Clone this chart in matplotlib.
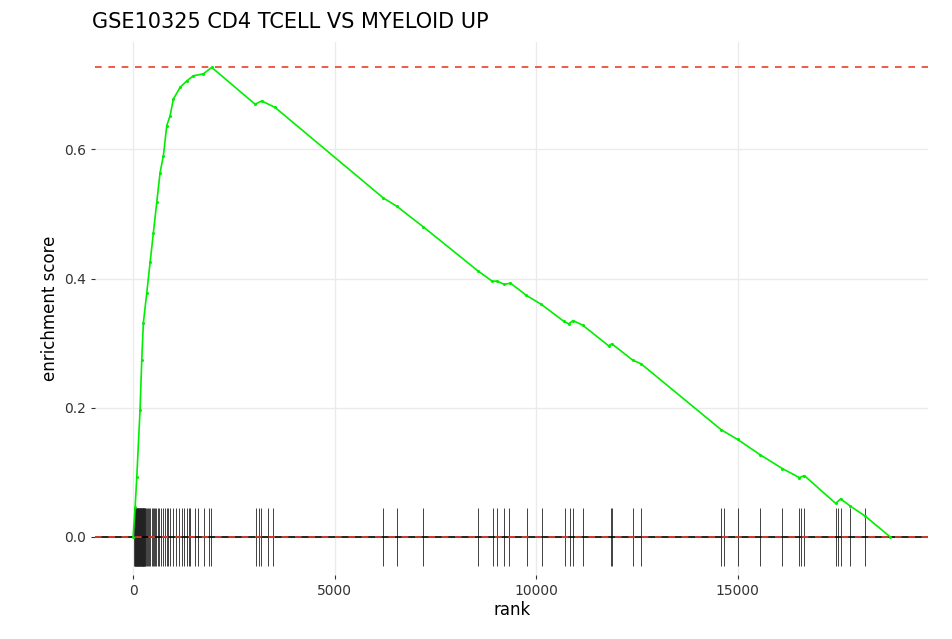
import matplotlib
matplotlib.use("Agg")
import matplotlib.pyplot as plt

title = "GSE10325 CD4 TCELL VS MYELOID UP"
curve_rank = [0, 52, 92, 173, 215, 256, 340, 422, 504, 587, 670, 752, 836, 918, 1000, 1166, 1332, 1497,
              1745, 1951, 3027, 3192, 3523, 6205, 6543, 7203, 8556, 8911, 9035, 9216, 9365, 9761,
              10132, 10685, 10809, 10916, 11155, 11799, 11881, 12393, 12607, 14593, 15000, 15568,
              16108, 16534, 16657, 17434, 17557, 17794, 18172, 18790]
curve_es = [0.0, 0.047, 0.093, 0.197, 0.274, 0.332, 0.378, 0.425, 0.471, 0.518, 0.564, 0.590, 0.637,
            0.652, 0.678, 0.696, 0.706, 0.714, 0.717, 0.727, 0.670, 0.675, 0.665, 0.525, 0.512, 0.480,
            0.412, 0.396, 0.396, 0.391, 0.393, 0.374, 0.360, 0.334, 0.330, 0.335, 0.328, 0.296, 0.299,
            0.274, 0.268, 0.166, 0.151, 0.127, 0.106, 0.092, 0.095, 0.052, 0.059, 0.048, 0.032, 0.0]
hit_ranks = [35, 42, 50, 58, 66, 74, 82, 90, 98, 106, 114, 122, 130, 138, 146, 154, 162, 170, 178,
             186, 194, 202, 210, 218, 226, 234, 242, 250, 258, 266, 274, 282, 290, 300,
             325, 350, 375, 400, 430, 460, 490, 520, 550, 580, 615, 650, 690, 730, 780, 830, 870,
             920, 980, 1070, 1150, 1210, 1275, 1330, 1390, 1410, 1525, 1610, 1765, 1880, 1935,
             3042, 3115, 3167, 3355, 3481,
             6212, 6544, 7206, 8561, 8939, 9034, 9195, 9318, 9773, 10142, 10710, 10833, 10928,
             11155, 11847, 11884, 12415, 12604, 14593, 14669, 15000, 15568, 16108, 16534, 16581,
             16657, 17434, 17481, 17557, 17794, 18172]
es_max = 0.727
es_min = 0.0

fig = plt.figure(figsize=(9.52, 6.39), dpi=100)
ax = fig.add_axes([0.1, 0.1, 0.875, 0.835])
ax.set_facecolor("white")
ax.plot(curve_rank, curve_es, color="#00ee00", lw=1.2, marker="o", ms=1.2, zorder=3)
ax.vlines(hit_ranks, -0.045, 0.045, color="#222222", lw=0.6, zorder=2)
ax.axhline(0, color="black", lw=1.2, zorder=2)
ax.axhline(es_max, color="#e8402a", lw=1.2, ls=(0, (4, 4)), zorder=4)
ax.axhline(es_min, color="#e8402a", lw=1.2, ls=(0, (4, 4)), zorder=4)
ax.set_xlim(-940, 19730)
ax.set_ylim(-0.059, 0.767)
ax.set_xticks([0, 5000, 10000, 15000])
ax.set_yticks([0.0, 0.2, 0.4, 0.6])
ax.set_yticklabels(["0.0", "0.2", "0.4", "0.6"])
ax.grid(True, color="#ebebeb", lw=1.0)
ax.set_axisbelow(True)
for s in ax.spines.values():
    s.set_visible(False)
ax.tick_params(axis="both", colors="#333333", labelsize=10, length=3, color="#333333")
ax.set_xlabel("rank", fontsize=12, labelpad=2)
ax.set_ylabel("enrichment score", fontsize=12)
fig.text(0.097, 0.965, title, fontsize=15, ha="left", va="center")
fig.savefig("out.png", dpi=100)
